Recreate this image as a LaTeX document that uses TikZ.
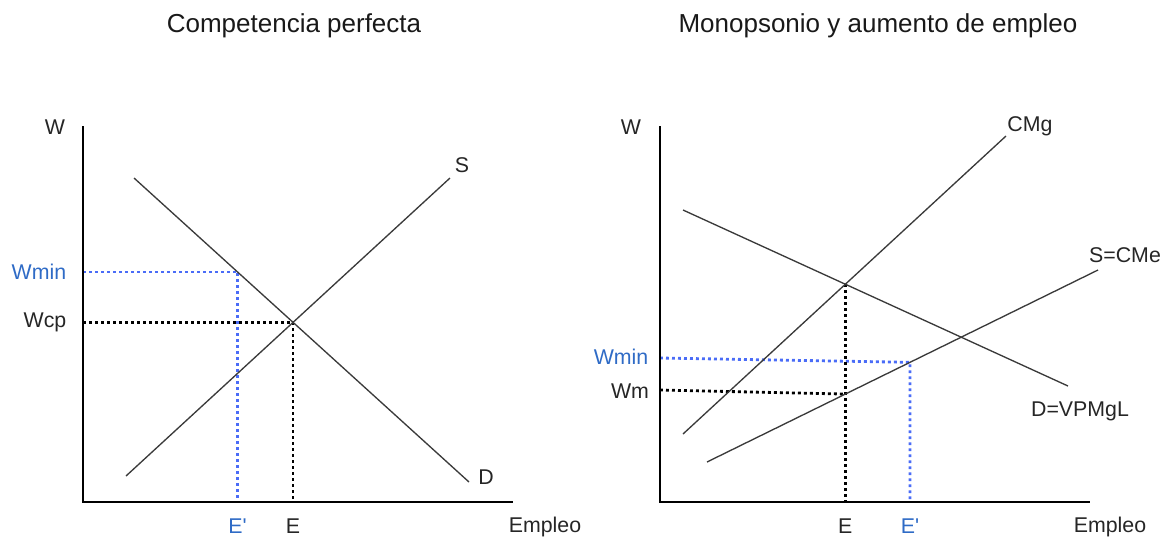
\documentclass[tikz,border=0pt]{standalone}
\usepackage{fontspec}
\setmainfont{Liberation Sans}
\usetikzlibrary{intersections}
\definecolor{curvecol}{HTML}{3A3A3A}
\definecolor{bluetext}{HTML}{2F6BC6}
\definecolor{blueline}{HTML}{4A6CF7}
\tikzset{
  axis/.style={line width=2.2pt, black},
  curve/.style={line width=1pt, curvecol},
  dotblack/.style={line width=2.1pt, black, dash pattern=on 2.1pt off 2.4pt},
  dotblue/.style={line width=2.1pt, blueline, dash pattern=on 2.1pt off 2.4pt},
  lbl/.style={font=\fontsize{16}{18}\selectfont, text=black!85, inner sep=0pt},
  blbl/.style={lbl, text=bluetext},
  ttl/.style={font=\fontsize{19.5}{22}\selectfont, text=black!90, inner sep=0pt}
}
\begin{document}
\begin{tikzpicture}[x=0.75pt,y=-0.75pt]
\useasboundingbox (0,0) rectangle (1164,537);
% ---------- Left panel ----------
\node[ttl] (t1) at (294,26) {Competencia perfecta};
\coordinate (lo) at (83,502);
\coordinate (ltop) at (83,126);
\coordinate (lend) at (513,502);
\coordinate (s1) at (126,476);
\coordinate (s2) at (450,178);
\coordinate (d1) at (134,178);
\coordinate (d2) at (469,482);
\path[name path=lS] (s1) -- (s2);
\path[name path=lD] (d1) -- (d2);
\path[name intersections={of=lS and lD, by=lE}];
\path[name path=lmin] (83,272) -- (513,272);
\path[name intersections={of=lmin and lD, by=lW}];
\coordinate (lEb) at (lE |- lo);
\coordinate (lWb) at (lW |- lo);
\coordinate (lEa) at (lE -| lo);
\coordinate (lWa) at (lW -| lo);
\draw[dotblue] (lWa) -- (lW) -- (lWb);
\draw[dotblack] (lEa) -- (lE) -- (lEb);
\draw[curve] (s1) -- (s2);
\draw[curve] (d1) -- (d2);
\draw[axis] (ltop) -- (lo) -- (lend);
\node[lbl] (lWl) at (55,127) {W};
\node[blbl] (lminl) at (39,272) {Wmin};
\node[lbl] (lcpl) at (45,322) {Wcp};
\node[lbl] (lSl) at (462,165) {S};
\node[lbl] (lDl) at (486,477) {D};
\node[blbl] (lEpl) at (lWb |- 0,526.5) {E\textquotesingle};
\node[lbl] (lEl) at (lEb |- 0,526.5) {E};
\node[lbl] (lEmp) at (545,526.5) {Empleo};
% ---------- Right panel ----------
\node[ttl] (t2) at (878,26) {Monopsonio y aumento de empleo};
\coordinate (ro) at (660,502);
\coordinate (rtop) at (660,126);
\coordinate (rend) at (1090,502);
\coordinate (c1) at (683,434);
\coordinate (c2) at (1006,136);
\coordinate (a1) at (707,462);
\coordinate (a2) at (1098,270);
\coordinate (v1) at (683,210);
\coordinate (v2) at (1068,386);
\path[name path=rC] (c1) -- (c2);
\path[name path=rS] (a1) -- (a2);
\path[name path=rD] (v1) -- (v2);
\path[name intersections={of=rC and rD, by=rE}];
\path[name path=rvert] (rE) -- (rE |- ro);
\path[name intersections={of=rvert and rS, by=rM}];
\path[name path=rmin] (910,250) -- (910,502);
\path[name intersections={of=rmin and rS, by=rW}];
\coordinate (rEb) at (rE |- ro);
\coordinate (rWb) at (rW |- ro);
\coordinate (rMa) at (660,390);
\coordinate (rWa) at (660,358);
\draw[dotblue] (rWa) -- (rW) -- (rWb);
\draw[dotblack] (rMa) -- (rM);
\draw[dotblack] (rE) -- (rEb);
\draw[curve] (c1) -- (c2);
\draw[curve] (a1) -- (a2);
\draw[curve] (v1) -- (v2);
\draw[axis] (rtop) -- (ro) -- (rend);
\node[lbl] (rWl) at (631,127) {W};
\node[blbl] (rminl) at (621,357) {Wmin};
\node[lbl] (rml) at (630,391) {Wm};
\node[lbl] (rCl) at (1030,126) {CMg};
\node[lbl] (rSl) at (1125,255) {S=CMe};
\node[lbl] (rDl) at (1080,411) {D=VPMgL};
\node[lbl] (rEl) at (rEb |- 0,526.5) {E};
\node[blbl] (rEpl) at (rWb |- 0,526.5) {E\textquotesingle};
\node[lbl] (rEmp) at (1110,526.5) {Empleo};
\end{tikzpicture}
\end{document}
